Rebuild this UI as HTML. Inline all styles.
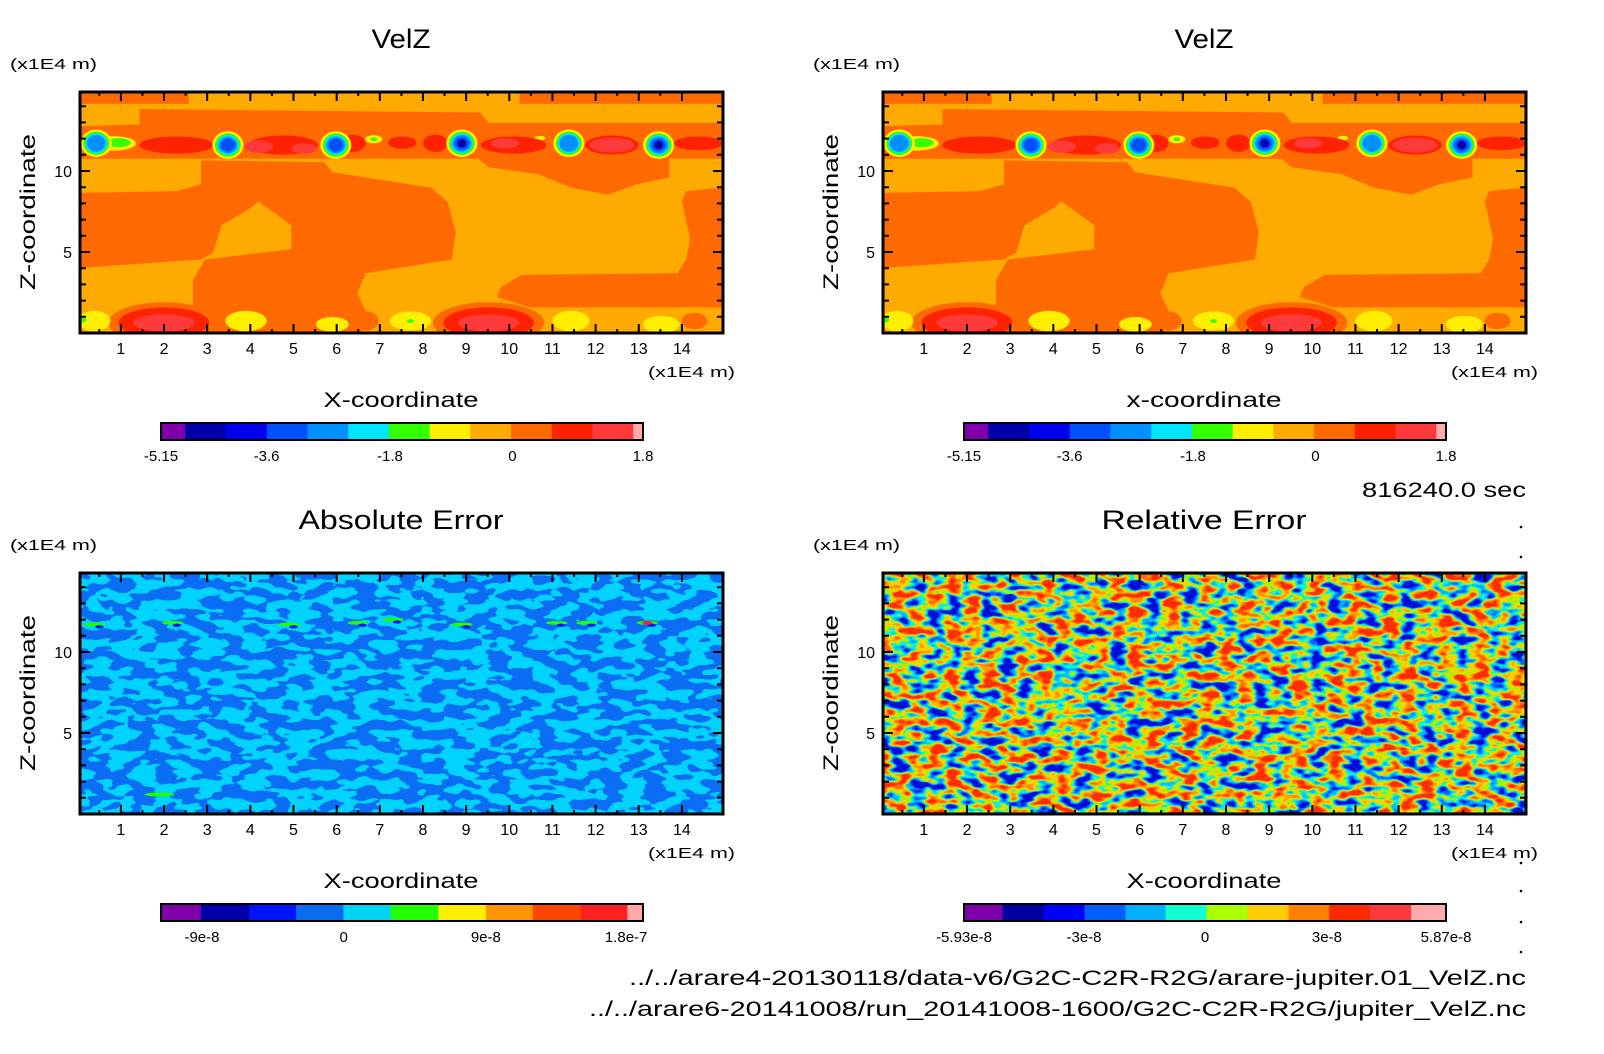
<!DOCTYPE html>
<html><head><meta charset="utf-8"><title>VelZ comparison</title>
<style>
html,body{margin:0;padding:0;background:#fff;}
svg{display:block;font-family:"Liberation Sans",sans-serif;}
</style></head>
<body>
<svg id="fig" width="1604" height="1054" viewBox="0 0 1604 1054" xmlns="http://www.w3.org/2000/svg">
<defs>
 <filter id="absNoise" filterUnits="userSpaceOnUse" x="0" y="0" width="1604" height="1054" color-interpolation-filters="sRGB">
  <feTurbulence type="fractalNoise" baseFrequency="0.045 0.1" numOctaves="2" seed="7"/>
  <feColorMatrix type="matrix" values="1 0 0 0 0 1 0 0 0 0 1 0 0 0 0 0 0 0 0 1"/>
  <feComponentTransfer>
   <feFuncR type="discrete" tableValues="0.04 0"/>
   <feFuncG type="discrete" tableValues="0.43 0.83"/>
   <feFuncB type="discrete" tableValues="0.96 1"/>
  </feComponentTransfer>
 </filter>
 <filter id="relNoise" filterUnits="userSpaceOnUse" x="0" y="0" width="1604" height="1054" color-interpolation-filters="sRGB">
  <feTurbulence type="fractalNoise" baseFrequency="0.055 0.11" numOctaves="2" seed="3"/>
  <feColorMatrix type="matrix" values="2.4 0 0 0 -0.7 2.4 0 0 0 -0.7 2.4 0 0 0 -0.7 0 0 0 0 1"/>
  <feComponentTransfer>
   <feFuncR type="discrete" tableValues="0 0 0 0.06 0.69 1 1 1 1"/>
   <feFuncG type="discrete" tableValues="0.06 0.39 0.71 0.94 0.94 0.82 0.6 0.42 0.18"/>
   <feFuncB type="discrete" tableValues="0.85 1 1 0.88 0 0 0 0 0"/>
  </feComponentTransfer>
 </filter>
</defs>
</svg>
<script>
// ---------- data (units: x, z in 1E4 m) ----------
const xTicks = [1,2,3,4,5,6,7,8,9,10,11,12,13,14];
const zTicksMajor = [5,10];
const zTicks = [1,2,3,4,5,6,7,8,9,10,11,12,13,14];
const darkOrangePolys = [
 [[0,14.87],[2.57,14.87],[2.57,14.14],[0,14.14]],
 [[10.24,14.87],[14.93,14.87],[14.93,14.14],[10.24,14.14]],
 [[1.43,13.82],[9.33,13.61],[9.52,12.97],[14.93,12.97],[14.93,10.76],[0,10.76],[0,12.76],[1.43,12.87]],
 [[0,8.65],[2.29,8.76],[2.86,9.18],[2.86,10.65],[5.71,10.55],[5.9,9.92],[8.19,8.97],[8.57,8.12],[8.76,6.22],[8.67,4.54],[6.67,3.69],[6.48,2.43],[6.67,1.37],[6.57,0],[2.67,0],[2.67,3.27],[2.95,4.54],[4.95,5.17],[4.95,6.65],[4.19,8.12],[4,7.7],[3.33,6.65],[3.14,4.96],[2.86,4.54],[0,4.01]],
 [[9.24,10.86],[13.71,10.86],[13.71,9.6],[12.95,9.18],[12.29,8.54],[11.43,8.97],[10.67,9.81],[9.52,10.23]],
 [[14.93,8.97],[14.1,8.76],[14,8.12],[14.19,5.8],[14.1,4.54],[13.9,3.69],[10.29,3.59],[9.81,2.85],[9.71,2.22],[10.48,1.58],[14.93,1.58]]
];
const darkOrangeBlobs = [[2.0,0.63,1.29,1.27],[9.52,0.63,1.29,1.27],[6.67,0.74,0.3,0.6],[14.29,0.74,0.3,0.5]];
const yellowBlobs = [[0.38,0.74,0.38,0.63],[3.9,0.74,0.48,0.63],[5.9,0.53,0.38,0.46],[7.71,0.74,0.48,0.59],[11.43,0.74,0.43,0.63],[13.52,0.53,0.43,0.53],[6.86,11.96,0.2,0.25],[10.71,12.03,0.12,0.14],[0.8,11.7,0.55,0.45]];
const greenBlobs = [[7.71,0.74,0.08,0.12],[0.1,0.8,0.1,0.15],[6.86,11.96,0.08,0.12],[0.95,11.75,0.28,0.28]];
const redBlobs = [[2.0,0.63,1.05,0.95],[9.52,0.63,1.05,0.95],[2.29,11.6,0.86,0.53],[4.76,11.6,0.81,0.59],[6.38,11.71,0.29,0.53],[7.52,11.75,0.33,0.38],[8.29,11.71,0.29,0.53],[10.1,11.6,0.76,0.53],[12.38,11.6,0.62,0.59],[14.38,11.71,0.57,0.42]];
const lightRedBlobs = [[2.0,0.63,0.71,0.53],[9.52,0.63,0.71,0.53],[4.19,11.5,0.33,0.38],[5.24,11.39,0.29,0.32],[9.9,11.71,0.33,0.32],[12.38,11.6,0.52,0.46]];
const vortexX = [0.43,3.48,5.98,8.9,11.38,13.46];
const vortexZ = [11.71,11.6,11.6,11.71,11.71,11.6];
const vortexDepth = [4,5,5,6,4,6];
const velColors = ["#7f00aa","#0000a8","#0000ee","#0050ff","#0090ff","#00e5ff","#33ff00","#ffee00","#ffaa00","#ff6a00","#ff2200","#ff3a3a","#ffaaaa"];
const velWeights = [50,84,84,84,84,84,84,84,84,84,84,84,20];
const velLabels = ["-5.15","-3.6","-1.8","0","1.8"];
const velLabelPos = [0,0.219,0.475,0.729,1.0];
const absColors = ["#8000aa","#0000a8","#0014ff","#0a6cf0","#00d4f5","#22ff00","#ffee00","#ff9500","#ff4500","#ff2020","#ffa8a8"];
const absWeights = [87,105,102,103,103,104,103,102,105,101,34];
const absLabels = ["-9e-8","0","9e-8","1.8e-7"];
const absLabelPos = [0.085,0.379,0.674,0.965];
const relColors = ["#7f00aa","#0000a0","#0000ff","#0060ff","#00b0ff","#10ffd0","#aaff00","#ffcc00","#ff8000","#ff2a00","#ff3a3a","#ffaaaa"];
const relWeights = [75,80,80,80,78,80,80,80,79,80,80,68];
const relLabels = ["-5.93e-8","-3e-8","0","3e-8","5.87e-8"];
const relLabelPos = [0,0.249,0.5,0.753,1.0];
const ringColors = ["#ffee00","#33ff00","#00e5ff","#0090ff","#0050ff","#0000a8"];
const ringRx = [0.36,0.3,0.26,0.22,0.16,0.1];
const ringRz = [0.85,0.72,0.62,0.52,0.4,0.25];
const absSpotX = [0.4,2.2,4.9,6.5,7.3,8.9,11.1,11.8,13.2];
const absSpotZ = [11.7,11.8,11.7,11.8,12.0,11.7,11.8,11.8,11.8];

const NS = "http://www.w3.org/2000/svg";
const svg = document.getElementById('fig');
const FW = 643, FH = 241;
function mk(tag, attrs, parent){ const e=document.createElementNS(NS,tag); for(const k in attrs) e.setAttribute(k,attrs[k]); (parent||svg).appendChild(e); return e; }

function panel(ox, oy, kind, title, xlabel, cbColors, cbWeights, cbLabels, cbPos, id){
  const fx = 80+ox, fy = 92+oy;
  const xs = x => 77.7 + ox + 43.16*x;
  const zs = z => 333 + oy - 16.2*z;
  const g = mk('g',{});
  
  
  const t = mk('text',{x:401+ox, y:48+oy, 'text-anchor':'middle','font-size':27, textLength: title.length>5?205:59, lengthAdjust:'spacingAndGlyphs'}, g);
  t.textContent = title;
  
  
  const u = mk('text',{x:10+ox, y:69+oy,'font-size':15, textLength:87, lengthAdjust:'spacingAndGlyphs'}, g);
  u.textContent = '(x1E4 m)';
  
  
  const cp = mk('clipPath',{id:'clip-'+id}, g);
  mk('rect',{x:fx,y:fy,width:FW,height:FH}, cp);
  const field = mk('g',{'clip-path':'url(#clip-'+id+')'}, g);
  
  
  const ell = (d, fill) => mk('ellipse',{cx:xs(d[0]), cy:zs(d[1]), rx:43.16*d[2], ry:16.2*d[3], fill:fill}, field);
  if(kind==='vel'){
    mk('rect',{x:fx,y:fy,width:FW,height:FH,fill:'#ffaa00'}, field);
    darkOrangePolys.forEach(p=>{
      const e = mk('polygon',{points:p.map(q=>xs(q[0])+','+zs(q[1])).join(' '), fill:'#ff6a00'}, field);
      
      
    });
    darkOrangeBlobs.forEach(d=>ell(d,'#ff6a00'));
    yellowBlobs.forEach(d=>ell(d,'#ffee00'));
    greenBlobs.forEach(d=>ell(d,'#33ff00'));
    redBlobs.forEach(d=>ell(d,'#ff2200'));
    lightRedBlobs.forEach(d=>ell(d,'#ff3a3a'));
    vortexX.forEach((vx,i)=>{
      for(let r=0;r<vortexDepth[i];r++){
        const e = ell([vx, vortexZ[i], ringRx[r], ringRz[r]], ringColors[r]);
        
        
      }
    });
  } else if(kind==='abs'){
    mk('rect',{x:fx,y:fy,width:FW,height:FH,fill:'#0a6cf0',filter:'url(#absNoise)'}, field);
    absSpotX.forEach((sx,i)=>{
      const e = ell([sx, absSpotZ[i], 0.25, 0.12], '#22ff00');
      
      
      ell([sx+0.1, absSpotZ[i]-0.15, 0.1, 0.1], '#0014ff');
    });
    ell([13.2,11.8,0.12,0.12],'#ff2020');
    ell([1.9,1.2,0.35,0.12],'#22ff00');
  } else {
    mk('rect',{x:fx,y:fy,width:FW,height:FH,fill:'#ffcc00',filter:'url(#relNoise)'}, field);
  }
  const fr = mk('rect',{x:fx,y:fy,width:FW,height:FH,fill:'none',stroke:'#000','stroke-width':3}, g);
  
  
  let tp = '';
  xTicks.forEach(v=>{ const X=xs(v); tp += `M${X},${fy+FH}v-9M${X},${fy}v9`; const Xh=xs(v-0.5); tp += `M${Xh},${fy+FH}v-4M${Xh},${fy}v4`; });
  zTicks.forEach(v=>{ const Y=zs(v); const L = zTicksMajor.includes(v)?10:6; tp += `M${fx},${Y}h${L}M${fx+FW},${Y}h${-L}`; });
  mk('path',{d:tp,stroke:'#000','stroke-width':2,fill:'none'}, g);
  xTicks.forEach(v=>{
    const e = mk('text',{x:xs(v), y:354+oy,'text-anchor':'middle','font-size':16}, g);
    e.textContent = v;
    
    
  });
  zTicksMajor.forEach(v=>{
    const e = mk('text',{x:fx-8, y:zs(v)+6,'text-anchor':'end','font-size':16}, g);
    e.textContent = v;
    
    
  });
  const xu = mk('text',{x:648+ox, y:377+oy,'font-size':15,textLength:87,lengthAdjust:'spacingAndGlyphs'}, g);
  xu.textContent = '(x1E4 m)';
  
  
  const xl = mk('text',{x:401+ox, y:407+oy,'text-anchor':'middle','font-size':21,textLength:155,lengthAdjust:'spacingAndGlyphs'}, g);
  xl.textContent = xlabel;
  
  
  const zl = mk('text',{x:0,y:0,'text-anchor':'middle','font-size':21,textLength:156,lengthAdjust:'spacingAndGlyphs',transform:`translate(${35+ox},${212+oy}) rotate(-90)`}, g);
  zl.textContent = 'Z-coordinate';
  
  
  const cx0 = 161+ox, cx1 = 643+ox, cy = 423+oy, ch = 17;
  const tot = cbWeights.reduce((a,b)=>a+b,0);
  const cb = mk('g',{}, g);
  
  
  let acc = 0;
  cbColors.forEach((c,i)=>{
    const x = cx0 + (cx1-cx0)*acc/tot, w = (cx1-cx0)*cbWeights[i]/tot;
    const r = mk('rect',{x:x,y:cy,width:w+0.5,height:ch,fill:c}, cb);
    
    
    acc += cbWeights[i];
  });
  mk('rect',{x:cx0,y:cy,width:cx1-cx0,height:ch,fill:'none',stroke:'#000','stroke-width':2}, cb);
  cbLabels.forEach((l,i)=>{
    const e = mk('text',{x:cx0+(cx1-cx0)*cbPos[i], y:461+oy,'text-anchor':'middle','font-size':15}, cb);
    e.textContent = l;
    
    
  });
}
panel(0,0,'vel','VelZ','X-coordinate',velColors,velWeights,velLabels,velLabelPos,'velz-left');
panel(803,0,'vel','VelZ','x-coordinate',velColors,velWeights,velLabels,velLabelPos,'velz-right');
panel(0,481,'abs','Absolute Error','X-coordinate',absColors,absWeights,absLabels,absLabelPos,'abs-error');
panel(803,481,'rel','Relative Error','X-coordinate',relColors,relWeights,relLabels,relLabelPos,'rel-error');

const tm = mk('text',{x:1526,y:497,'text-anchor':'end','font-size':21,textLength:164,lengthAdjust:'spacingAndGlyphs'});
tm.textContent = '816240.0 sec';


[527,557,863,891,922,952].forEach(y=>{
  const d = mk('circle',{cx:1521,cy:y,r:1.3,fill:'#000'});
  
  
});
const f1 = mk('text',{x:1526,y:985,'text-anchor':'end','font-size':21,textLength:897,lengthAdjust:'spacingAndGlyphs'});
f1.textContent = '../../arare4-20130118/data-v6/G2C-C2R-R2G/arare-jupiter.01_VelZ.nc';


const f2 = mk('text',{x:1526,y:1016,'text-anchor':'end','font-size':21,textLength:937,lengthAdjust:'spacingAndGlyphs'});
f2.textContent = '../../arare6-20141008/run_20141008-1600/G2C-C2R-R2G/jupiter_VelZ.nc';


</script>
</body></html>
